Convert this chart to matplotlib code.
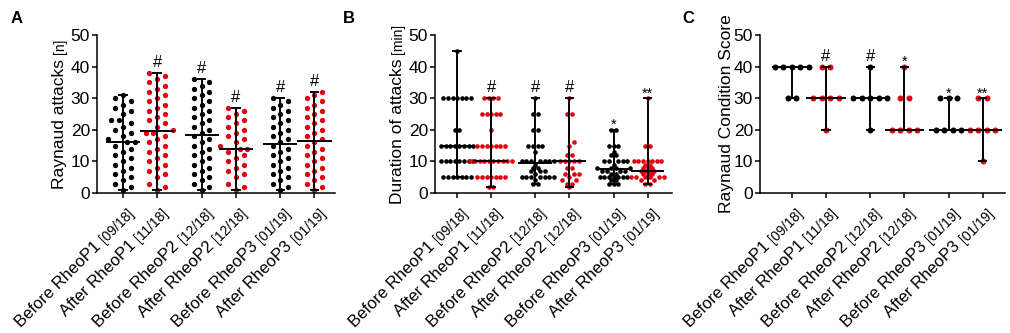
import matplotlib
matplotlib.use("Agg")
import matplotlib.pyplot as plt
import numpy as np
from matplotlib.font_manager import FontProperties

FAMILY = ["Liberation Sans", "DejaVu Sans"]
plt.rcParams["font.family"] = FAMILY

# ---- data ----
group_names = ["Before RheoP1", "After RheoP1", "Before RheoP2",
               "After RheoP2", "Before RheoP3", "After RheoP3"]
group_dates = ["[09/18]", "[11/18]", "[12/18]", "[12/18]", "[01/19]", "[01/19]"]

# A: Raynaud attacks [n]
a_before1 = [1, 2, 3, 4, 5, 6, 7, 8, 9, 10, 11, 12, 13, 14, 15, 16, 16, 17, 18, 19,
             20, 21, 22, 23, 23, 25, 26, 27, 28, 29, 30, 31]
a_after1 = [1, 2, 3, 5, 6, 7, 8, 9, 10, 11, 12, 13, 14, 15, 16, 17, 18, 19, 19, 20,
            21, 22, 23, 24, 25, 26, 27, 28, 29, 30, 31, 32, 33, 34, 35, 36, 37, 38]
a_before2 = [1, 2, 3, 4, 5, 6, 7, 8, 9, 10, 11, 12, 13, 14, 15, 16, 17, 18, 19, 20,
             21, 22, 23, 24, 25, 26, 27, 28, 29, 30, 31, 32, 33, 34, 35, 36]
a_after2 = [1, 2, 3, 5, 6, 7, 8, 9, 10, 11, 12, 13, 14, 14, 15, 16, 17, 18, 19, 20,
            21, 22, 23, 24, 25, 26, 27]
a_before3 = [1, 2, 3, 4, 5, 6, 7, 8, 9, 10, 11, 12, 13, 14, 15, 16, 17, 18, 19, 20,
             21, 22, 23, 24, 25, 26, 27, 28, 29, 30]
a_after3 = [1, 2, 3, 4, 5, 6, 7, 8, 9, 10, 11, 12, 13, 14, 15, 16, 17, 18, 19, 20,
            21, 22, 23, 24, 25, 26, 27, 28, 29, 30, 31, 32]
a_sig = ["", "#", "#", "#", "#", "#"]

# B: Duration of attacks [min]
b_before1 = [5, 5, 5, 5, 5, 5, 5, 10, 10, 10, 10, 10, 10, 10, 10, 15, 15, 15, 15, 15,
             15, 15, 15, 20, 20, 30, 30, 30, 30, 30, 30, 30, 45]
b_after1 = [2, 2, 5, 5, 5, 5, 5, 5, 5, 10, 10, 10, 10, 10, 10, 10, 10, 10, 10, 15, 15,
            15, 15, 15, 15, 15, 20, 25, 25, 25, 25, 25, 30, 30, 30, 30]
b_before2 = [3, 3, 4, 5, 5, 5, 5, 5, 5, 5, 6, 7, 7, 7, 8, 8, 9, 10, 10, 10, 10, 10, 10,
             10, 13, 15, 15, 15, 15, 20, 20, 25, 25, 30]
b_after2 = [2, 3, 3, 4, 4, 5, 6, 6, 6, 8, 8, 10, 10, 10, 10, 10, 12, 12, 15, 16, 25, 25, 30]
b_before3 = [3, 3, 3, 4, 4, 5, 5, 5, 5, 5, 5, 5, 6, 6, 7, 7, 7, 7, 8, 8, 8, 8, 9, 10, 10,
             10, 10, 10, 12, 12, 13, 15, 15, 15, 20, 20]
b_after3 = [3, 3, 4, 4, 5, 5, 5, 5, 5, 5, 6, 6, 6, 7, 7, 7, 7, 8, 8, 8, 9, 9, 10, 10, 10,
            10, 10, 10, 10, 15, 15, 30]
b_sig = ["", "#", "#", "#", "*", "**"]

# C: Raynaud Condition Score
c_before1 = [30, 30, 40, 40, 40, 40, 40]
c_after1 = [20, 30, 30, 30, 30, 40, 40]
c_before2 = [20, 30, 30, 30, 30, 30, 40]
c_after2 = [20, 20, 20, 20, 30, 30, 40]
c_before3 = [20, 20, 20, 20, 30, 30, 30]
c_after3 = [10, 20, 20, 20, 20, 30, 30]
c_sig = ["", "#", "#", "*", "*", "**"]

BLACK = "#000000"
RED = "#e3000f"
group_colors = [BLACK, RED, BLACK, RED, BLACK, RED]
x_pos = [0, 1, 2.3, 3.3, 4.6, 5.6]

W, H = 1010, 333
fig = plt.figure(figsize=(W / 100, H / 100), dpi=100)
renderer = fig.canvas.get_renderer()


def text_width_pt(s, size):
    prop = FontProperties(family=FAMILY, size=size)
    w, _, _ = renderer.get_text_width_height_descent(s, prop, ismath=False)
    return w * 72 / fig.dpi


def swarm(ax, values, pos, step_px, min_dist_px):
    vals = np.asarray(values, dtype=float)
    pts = ax.transData.transform(np.column_stack([np.full(len(vals), pos), vals]))
    ypx = pts[:, 1]
    px_per_x = ax.transData.transform((1, 0))[0] - ax.transData.transform((0, 0))[0]
    offs = np.zeros(len(vals))
    placed = []
    for i in np.argsort(vals, kind="stable"):
        k = int(np.sum(vals == vals[i]))
        if k % 2:
            cands = [0] + [s * j for j in range(1, 30) for s in (1, -1)]
        else:
            cands = [s * (j + 0.5) for j in range(30) for s in (1, -1)]
        for c in cands:
            x = c * step_px
            if all(np.hypot(x - px, ypx[i] - py) >= min_dist_px for px, py in placed):
                break
        placed.append((x, ypx[i]))
        offs[i] = x / px_per_x
    return pos + offs


def panel(rect, xlim, groups, sig, ylab, yunit, ylab_x, letter, letter_x,
          dot_px, step_px, min_px, med_hw):
    ax = fig.add_axes(rect)
    ax.set_xlim(*xlim)
    ax.set_ylim(0, 50)
    for sp in ("top", "right"):
        ax.spines[sp].set_visible(False)
    for sp in ("left", "bottom"):
        ax.spines[sp].set_linewidth(1.1)
    ax.set_yticks([0, 10, 20, 30, 40, 50])
    ax.set_xticks(x_pos)
    ax.set_xticklabels([])
    ax.tick_params(direction="out", length=3.6, width=1.1, labelsize=12.5, pad=1.5)

    size = (dot_px * 0.72) ** 2
    for vals, pos, col, s in zip(groups, x_pos, group_colors, sig):
        xs = swarm(ax, vals, pos, step_px, min_px)
        ax.scatter(xs, vals, s=size, color=col, linewidths=0, zorder=2, clip_on=False)
        lo, hi, med = min(vals), max(vals), np.median(vals)
        ax.plot([pos, pos], [lo, hi], color="black", lw=1.4, zorder=3, clip_on=False)
        for v in (lo, hi):
            ax.plot([pos - 0.11, pos + 0.11], [v, v], color="black", lw=1.4, zorder=3,
                    clip_on=False)
        ax.plot([pos - med_hw, pos + med_hw], [med, med], color="black", lw=1.4, zorder=3)
        if s:
            dy = 4.3 if s == "#" else 0.5
            ax.annotate(s, xy=(pos, hi), xytext=(0, dy), textcoords="offset points",
                        ha="center", va="baseline", fontsize=12 if s == "#" else 10.5)

    # rotated category labels, date part in smaller type
    c45 = np.cos(np.pi / 4)
    bx, by = 8.5, -15.0
    for pos, name, date in zip(x_pos, group_names, group_dates):
        ax.annotate(date, xy=(pos, 0), xycoords=("data", "axes fraction"),
                    xytext=(bx, by), textcoords="offset points", rotation=45,
                    rotation_mode="anchor", ha="right", va="baseline", fontsize=10,
                    annotation_clip=False)
        gap = text_width_pt(date, 10) + text_width_pt(" ", 12)
        ax.annotate(name, xy=(pos, 0), xycoords=("data", "axes fraction"),
                    xytext=(bx - gap * c45, by - gap * c45), textcoords="offset points",
                    rotation=45, rotation_mode="anchor", ha="right", va="baseline",
                    fontsize=12, annotation_clip=False)

    # y label, unit part in smaller type
    w_main = text_width_pt(ylab + " ", 12.5)
    total = w_main + text_width_pt(yunit, 10) if yunit else text_width_pt(ylab, 12.5)
    ax.annotate(ylab, xy=(0, 0.5), xycoords="axes fraction", xytext=(ylab_x, -total / 2),
                textcoords="offset points", rotation=90, rotation_mode="anchor",
                ha="left", va="baseline", fontsize=12.5, annotation_clip=False)
    if yunit:
        ax.annotate(yunit, xy=(0, 0.5), xycoords="axes fraction",
                    xytext=(ylab_x, -total / 2 + w_main), textcoords="offset points",
                    rotation=90, rotation_mode="anchor", ha="left", va="baseline",
                    fontsize=10, annotation_clip=False)

    fig.text(letter_x / W, 1 - 11 / H, letter, fontsize=12, fontweight="bold", va="top")
    return ax


bottom = (H - 193) / H
height = 158 / H
panel([97 / W, bottom, 238 / W, height], (-0.76, 6.2),
      [a_before1, a_after1, a_before2, a_after2, a_before3, a_after3], a_sig,
      "Raynaud attacks", "[n]", -23.5, "A", 11, 5.3, 7.7, 7.0, 0.47)
panel([435 / W, bottom, 237 / W, height], (-0.65, 6.32),
      [b_before1, b_after1, b_before2, b_after2, b_before3, b_after3], b_sig,
      "Duration of attacks", "[min]", -23.5, "B", 343, 4.6, 4.6, 3.8, 0.47)
panel([760 / W, bottom, 245 / W, height], (-0.94, 6.26),
      [c_before1, c_after1, c_before2, c_after2, c_before3, c_after3], c_sig,
      "Raynaud Condition Score", "", -21.0, "C", 682, 6.0, 8.5, 8.0, 0.55)

fig.savefig("out.png", dpi=100)
